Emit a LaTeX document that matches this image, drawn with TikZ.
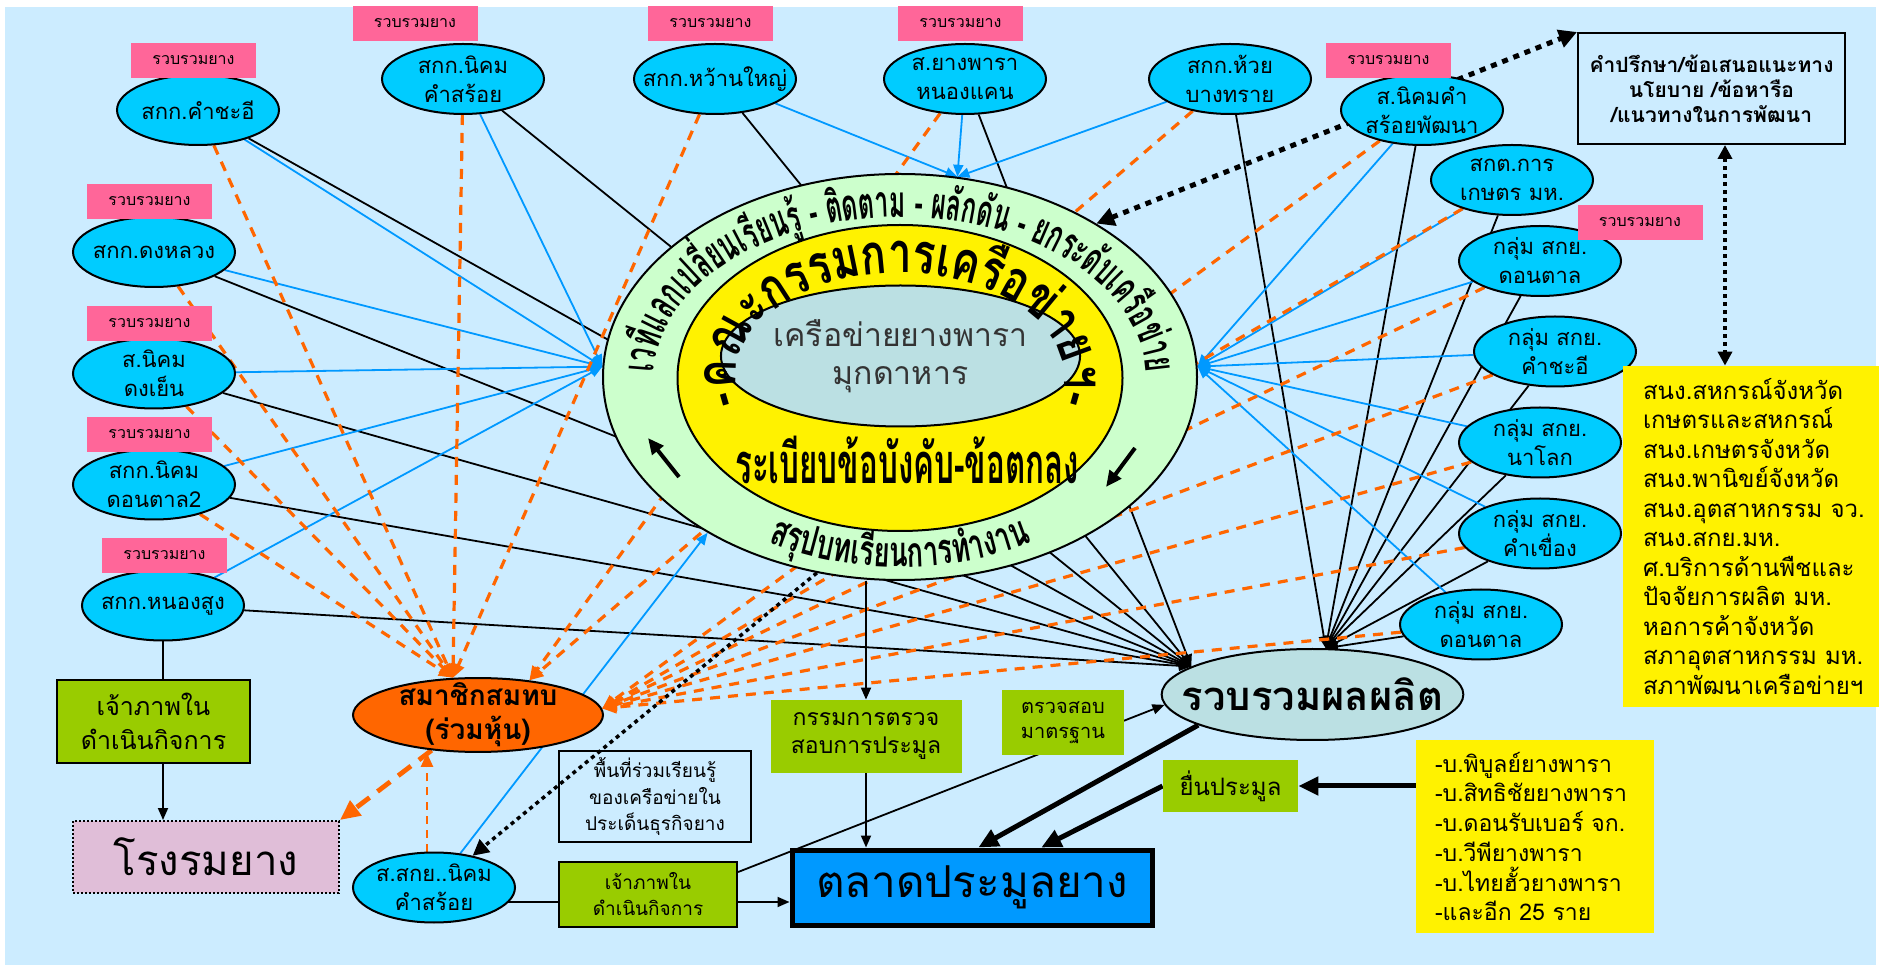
\documentclass[tikz,border=0pt]{standalone}
\usepackage{fontspec}
\setmainfont{Loma}[Script=Thai]
\newfontfamily\thaitight{Loma}[Script=Thai,FakeStretch=0.56]
\newfontfamily\thaicond{Loma}[Script=Thai,FakeStretch=0.65]
\newfontfamily\thaiwide{Loma}[Script=Thai,FakeStretch=0.75]
\usetikzlibrary{shapes.geometric,arrows.meta,decorations.text}
\definecolor{bgblue}{RGB}{204,236,255}
\definecolor{cyanfill}{RGB}{0,204,255}
\definecolor{tagpink}{RGB}{255,102,153}
\definecolor{leaf}{RGB}{153,204,0}
\definecolor{ringgreen}{RGB}{204,255,204}
\definecolor{coregray}{RGB}{187,224,227}
\definecolor{linkblue}{RGB}{0,153,255}
\definecolor{rubberorange}{RGB}{255,102,0}
\definecolor{smokepink}{RGB}{224,190,216}
\newcommand\ringfont{\thaitight\bfseries\fontsize{22}{24}\selectfont}
\newcommand\boardfont{\thaiwide\bfseries\fontsize{28}{30}\selectfont}
\newcommand\lessonfont{\thaicond\bfseries\fontsize{21}{22}\selectfont}
\pgfdeclarelayer{back}
\pgfdeclarelayer{links}
\pgfsetlayers{back,links,main}
\begin{document}
\begin{tikzpicture}[x=0.5pt, y=0.5pt,
  coop/.style={ellipse, draw, line width=1pt, fill=cyanfill, minimum width=81pt, minimum height=35pt, inner xsep=-8pt, inner ysep=-3pt, align=center, font=\fontsize{11}{14.5}\selectfont},
  rubbertag/.style={fill=tagpink, minimum width=62.5pt, minimum height=17.5pt, inner sep=0pt, font=\fontsize{8}{9}\selectfont},
  leafbox/.style={fill=leaf, inner sep=0pt, align=center},
  blk/.style={black, line width=0.9pt, -{Triangle[length=6pt,width=5pt]}},
  blu/.style={linkblue, line width=0.9pt, -{Triangle[length=6pt,width=5pt]}},
  org/.style={rubberorange, line width=1.6pt, dash pattern=on 5pt off 4pt, -{Triangle[length=7pt,width=6pt]}},
  arr/.style={black, line width=0.9pt, -{Triangle[length=6pt,width=5pt]}},
  fat/.style={black, line width=2.5pt, -{Triangle[length=10pt,width=9pt]}},
  bigdots/.style={black, line width=2.5pt, dash pattern=on 3pt off 3pt, {Triangle[length=9pt,width=9pt]}-{Triangle[length=9pt,width=9pt]}},
  smalldots/.style={black, line width=2pt, dash pattern=on 2pt off 2pt, {Triangle[length=7pt,width=7pt]}-{Triangle[length=7pt,width=7pt]}},
  fewdots/.style={black, line width=1.75pt, dash pattern=on 2pt off 2pt, -{Triangle[length=8pt,width=8pt]}}]
\useasboundingbox (0,0) rectangle (1881,965);
\begin{pgfonlayer}{back}
\fill[bgblue] (5,0) rectangle (1876,958);
\end{pgfonlayer}

% centre rings
\node[ellipse, draw, line width=1pt, fill=ringgreen, minimum width=297pt, minimum height=203pt] (ring) at (900,588) {};
\node[ellipse, draw, line width=1pt, fill=yellow, minimum width=222.5pt, minimum height=153pt] (yolk) at (900,587) {};
\node[ellipse, draw, line width=1pt, fill=coregray, minimum width=149pt, minimum height=70.5pt, inner sep=0pt, align=center, text=black!80, font=\fontsize{16}{19}\selectfont] (core) at (900.5,609) {เครือข่ายยางพารา\\มุกดาหาร};
\path[decorate, decoration={text along path, text align=center, text={|\ringfont|เว{ที}แลกเป{ลี่}ยนเ{รี}ยน{รู้} - {ติ}ดตาม - ผ{ลั}ก{ดั}น - ยกระ{ดั}บเค{รื}อ{ข่}าย}}] (ring.center) ++(186:246 and 160) arc[start angle=186, end angle=-6, x radius=246, y radius=160];
\path[decorate, decoration={text along path, text align=center, text={|\boardfont|-คณะกรรมการเค{รื}อ{ข่}ายฯ-}}] (ring.center) ++(196:164 and 104) arc[start angle=196, end angle=-16, x radius=164, y radius=104];
\path[decorate, decoration={text along path, text align=center, text={|\lessonfont|ส{รุ}ปบทเ{รี}ยนการทำงาน}}] (ring.center) ++(0,-12) ++(236:260 and 178) arc[start angle=236, end angle=304, x radius=260, y radius=178];
\node[font=\thaitight\bfseries\fontsize{28}{30}\selectfont, inner sep=0pt] (rules) at (907,505) {ระเบียบข้อบังคับ-ข้อตกลง};
\coordinate (arL1) at (679,488);
\coordinate (arL2) at (648,527);
\coordinate (arR1) at (1135,517);
\coordinate (arR2) at (1106,478);
\draw[line width=2pt, -{Triangle[length=8pt,width=7pt]}] (arL1) -- (arL2);
\draw[line width=2pt, -{Triangle[length=8pt,width=7pt]}] (arR1) -- (arR2);

% groups
\node[coop] (eKhamchaei) at (198,855) {สกก.คำชะอี};
\node[coop] (eNikhomKS) at (463,886) {สกก.นิคม\\คำสร้อย};
\node[coop] (eWan) at (715,886) {สกก.หว้านใหญ่};
\node[coop] (eNongkhaen) at (965,886) {ส.ยางพารา\\หนองแคน};
\node[coop] (eHuai) at (1230,886) {สกก.ห้วย\\บางทราย};
\node[coop] (eSoi) at (1422,855) {ส.นิคมคำ\\สร้อยพัฒนา};
\node[coop] (eSKT) at (1512,785) {สกต.การ\\เกษตร มห.};
\node[coop] (eG1) at (1540,704) {กลุ่ม สกย.\\ดอนตาล};
\node[coop] (eG2) at (1555,613.5) {กลุ่ม สกย.\\คำชะอี};
\node[coop] (eG3) at (1540,522.5) {กลุ่ม สกย.\\นาโลก};
\node[coop] (eG4) at (1540,431.5) {กลุ่ม สกย.\\คำเขื่อง};
\node[coop] (eG5) at (1481,340.5) {กลุ่ม สกย.\\ดอนตาล};
\node[coop] (eDongluang) at (154,713) {สกก.ดงหลวง};
\node[coop] (eDongyen) at (154,591.5) {ส.นิคม\\ดงเย็น};
\node[coop] (eDontan2) at (154,480.5) {สกก.นิคม\\ดอนตาล2};
\node[coop] (eNongsung) at (163,359.5) {สกก.หนองสูง};
\node[coop] (eSKY) at (434,77.5) {ส.สกย..นิคม\\คำสร้อย};

\node[rubbertag] (tA) at (193.5,904.5) {รวบรวมยาง};
\node[rubbertag] (tB) at (415,941.5) {รวบรวมยาง};
\node[rubbertag] (tC) at (710.5,941.5) {รวบรวมยาง};
\node[rubbertag] (tD) at (960.5,941.5) {รวบรวมยาง};
\node[rubbertag] (tE) at (1388.5,904.5) {รวบรวมยาง};
\node[rubbertag] (tF) at (1640,742.5) {รวบรวมยาง};
\node[rubbertag] (tG) at (149.5,763.5) {รวบรวมยาง};
\node[rubbertag] (tH) at (149.5,641.5) {รวบรวมยาง};
\node[rubbertag] (tI) at (149.5,530.5) {รวบรวมยาง};
\node[rubbertag] (tJ) at (164.5,409.5) {รวบรวมยาง};

% boxes
\node[draw, line width=1pt, minimum width=133.5pt, minimum height=55.5pt, align=center, font=\bfseries\fontsize{10.5}{12.5}\selectfont] (advice) at (1711.5,876.5) {คำปรึกษา/ข้อเสนอแนะทาง\\นโยบาย /ข้อหารือ\\/แนวทางในการพัฒนา};
\node[fill=yellow, text width=108pt, inner xsep=10pt, minimum height=170.5pt, align=left, font=\fontsize{12}{14.75}\selectfont] (agencies) at (1751,428.5) {สนง.สหกรณ์จังหวัด\\เกษตรและสหกรณ์\\สนง.เกษตรจังหวัด\\สนง.พานิขย์จังหวัด\\สนง.อุตสาหกรรม~จว.\\สนง.สกย.มห.\\ศ.บริการด้านพืชและ\\ปัจจัยการผลิต~มห.\\หอการค้าจังหวัด\\สภาอุตสาหกรรม~มห.\\สภาพัฒนาเครือข่ายฯ};
\node[leafbox, draw, line width=1pt, minimum width=96.5pt, minimum height=41.5pt, font=\fontsize{12.5}{17}\selectfont] (hostL) at (153.5,243.5) {เจ้าภาพใน\\ดำเนินกิจการ};
\node[draw, line width=1pt, dash pattern=on 1pt off 1pt, fill=smokepink, minimum width=133pt, minimum height=36pt, font=\fontsize{21}{23}\selectfont] (smoke) at (206,108) {โรงรมยาง};
\node[ellipse, draw, line width=1pt, fill=rubberorange, minimum width=125pt, minimum height=35pt, inner xsep=-6pt, inner ysep=-3pt, align=center, font=\bfseries\fontsize{14}{17}\selectfont] (member) at (478,250) {สมาชิกสมทบ\\(ร่วมหุ้น)};
\node[draw, line width=1pt, minimum width=96pt, minimum height=45.5pt, align=center, font=\fontsize{9.5}{13.25}\selectfont] (share) at (655,168.5) {พื้นที่ร่วมเรียนรู้\\ของเครือข่ายใน\\ประเด็นธุรกิจยาง};
\node[leafbox, draw, line width=1pt, minimum width=89pt, minimum height=32.5pt, font=\fontsize{9.5}{13}\selectfont] (hostB) at (648,70.5) {เจ้าภาพใน\\ดำเนินกิจการ};
\node[draw, line width=2.5pt, fill=linkblue, minimum width=180pt, minimum height=37.5pt, font=\fontsize{22}{24}\selectfont] (market) at (972,77.5) {ตลาดประมูลยาง};
\node[leafbox, minimum width=95.5pt, minimum height=36.5pt, font=\fontsize{11.5}{14}\selectfont] (audit) at (866,228.5) {กรรมการตรวจ\\สอบการประมูล};
\node[leafbox, minimum width=61pt, minimum height=32.5pt, font=\fontsize{10}{12.5}\selectfont] (std) at (1063,242.5) {ตรวจสอบ\\มาตรฐาน};
\node[ellipse, draw, line width=1pt, fill=coregray, minimum width=118.5pt, minimum height=45.5pt, inner xsep=-12pt, inner ysep=-2pt, font=\bfseries\fontsize{20}{22}\selectfont] (collect) at (1312.5,270.5) {รวบรวมผลผลิต};
\node[leafbox, minimum width=67.5pt, minimum height=26pt, font=\fontsize{12}{14}\selectfont] (bid) at (1230.5,179) {ยื่นประมูล};
\node[fill=yellow, text width=100pt, inner xsep=9.5pt, minimum height=96.5pt, align=left, font=\fontsize{11.5}{14.85}\selectfont] (buyers) at (1535,128.5) {-บ.พิบูลย์ยางพารา\\-บ.สิทธิชัยยางพารา\\-บ.ดอนรับเบอร์~จก.\\-บ.วีพียางพารา\\-บ.ไทยฮั้วยางพารา\\-และอีก~25~ราย};

\coordinate (hy) at (0,63);
\coordinate (ox) at (427,0);
\coordinate (vx) at (1725,0);

\begin{pgfonlayer}{links}
% black to collect
\draw[blk] (eKhamchaei) -- (collect.167);
\draw[blk] (eNikhomKS) -- (collect.167);
\draw[blk] (eWan) -- (collect.167);
\draw[blk] (eNongkhaen) -- (collect.167);
\draw[blk] (eDongluang) -- (collect.167);
\draw[blk] (eDongyen) -- (collect.167);
\draw[blk] (eDontan2) -- (collect.167);
\draw[blk] (eNongsung) -- (collect.167);
\draw[blk] (eHuai) -- (collect.74);
\draw[blk] (eSoi) -- (collect.74);
\draw[blk] (eSKT) -- (collect.74);
\draw[blk] (eG1) -- (collect.74);
\draw[blk] (eG2) -- (collect.74);
\draw[blk] (eG3) -- (collect.74);
\draw[blk] (eG4) -- (collect.74);
\draw[blk] (eG5) -- (collect.74);
% blue to ring
\draw[blu] (eKhamchaei) -- (ring.178);
\draw[blu] (eNikhomKS) -- (ring.178);
\draw[blu] (eDongluang) -- (ring.178);
\draw[blu] (eDongyen) -- (ring.178);
\draw[blu] (eDontan2) -- (ring.178);
\draw[blu] (eNongsung) -- (ring.178);
\draw[blu] (eWan) -- (ring.74);
\draw[blu] (eNongkhaen) -- (ring.74);
\draw[blu] (eHuai) -- (ring.74);
\draw[blu] (eSoi) -- (ring.2);
\draw[blu] (eSKT) -- (ring.2);
\draw[blu] (eG1) -- (ring.2);
\draw[blu] (eG2) -- (ring.2);
\draw[blu] (eG3) -- (ring.2);
\draw[blu] (eG4) -- (ring.2);
\draw[blu] (eG5) -- (ring.2);
\draw[blu] (eSKY) -- (ring.219);
% orange to member
\draw[org] (eKhamchaei) -- (member.124);
\draw[org] (eNikhomKS) -- (member.124);
\draw[org] (eWan) -- (member.124);
\draw[org] (eDongluang) -- (member.124);
\draw[org] (eDongyen) -- (member.124);
\draw[org] (eDontan2) -- (member.124);
\draw[org] (eNongkhaen) -- (member.34);
\draw[org] (eHuai) -- (member.34);
\draw[org] (eSoi) -- (member.3);
\draw[org] (eSKT) -- (member.3);
\draw[org] (eG1) -- (member.3);
\draw[org] (eG2) -- (member.3);
\draw[org] (eG3) -- (member.3);
\draw[org] (eG4) -- (member.3);
\draw[org] (eG5) -- (member.3);
\draw[org, line width=1.2pt, dash pattern=on 4pt off 3pt] (eSKY.north -| ox) -- (member.south -| ox);
\draw[org, line width=2.4pt, dash pattern=on 8pt off 5pt, -{Triangle[length=10pt,width=9pt]}] (member) -- (smoke.north east);
% dotted
\draw[fewdots] (ring.247) -- (eSKY);
\draw[bigdots] (ring.38) -- (advice.north west);
\draw[smalldots] (advice.south -| vx) -- (agencies.north -| vx);
% flow
\draw[black, line width=0.9pt] (eNongsung.south) -- (eNongsung.south |- hostL.north);
\draw[arr] (hostL.south -| eNongsung.south) -- (smoke.north -| eNongsung.south);
\draw[arr] (ring.south -| audit.north) -- (audit.north);
\draw[arr] (audit.south) -- (audit.south |- market.north);
\draw[arr] (eSKY |- hy) -- (market.west |- hy);
\draw[arr] (hostB.14) -- (collect.184);
\draw[fat] (collect.195) -- (market.81);
\draw[fat] (bid.west) -- (market.30);
\draw[fat] (buyers.west |- bid.east) -- (bid.east);
\end{pgfonlayer}
\end{tikzpicture}
\end{document}
